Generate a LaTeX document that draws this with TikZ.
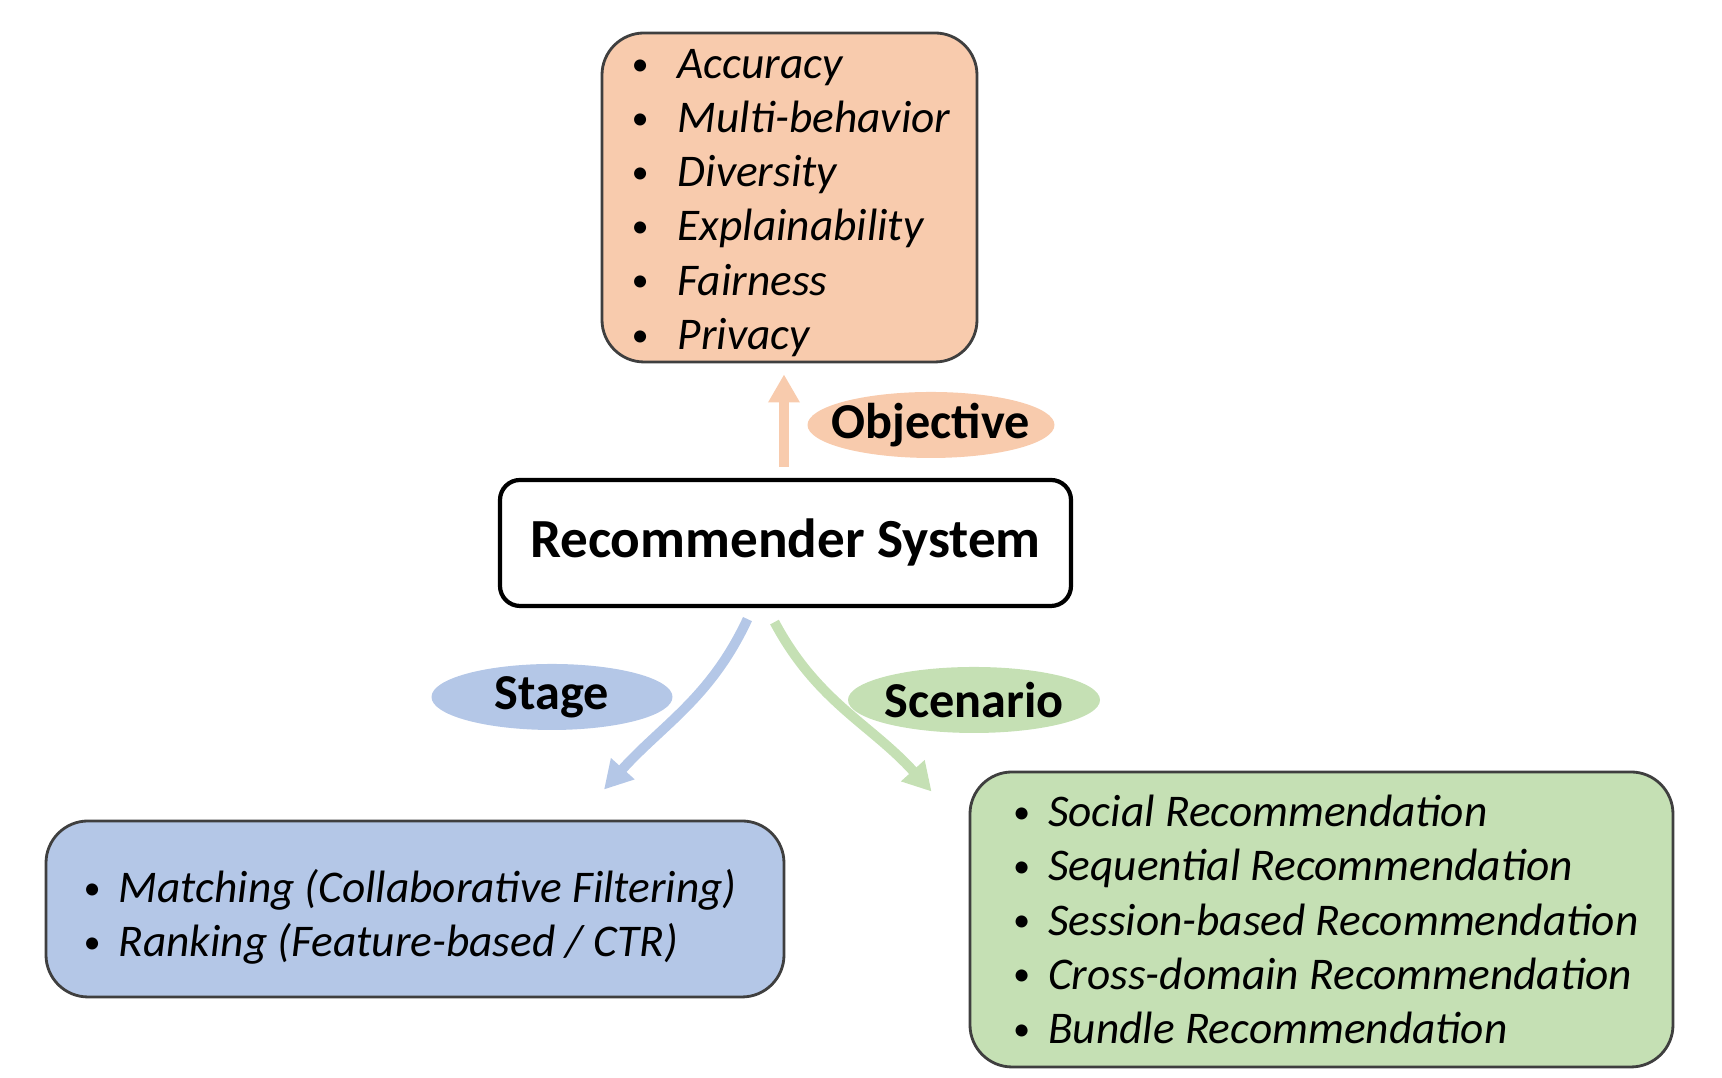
\documentclass[tikz,border=0pt]{standalone}
\usepackage{fontspec}
\setmainfont{Carlito}
\usetikzlibrary{positioning,arrows.meta,calc,shapes.geometric}
\definecolor{objpeach}{HTML}{F8CBAD}
\definecolor{stageblue}{HTML}{B4C7E7}
\definecolor{scengreen}{HTML}{C5E0B4}
\definecolor{edgegray}{HTML}{3F3F3F}
\newcommand{\bul}[1][0.185cm]{\raisebox{0.07em}{\scalebox{0.75}{\textbullet}}\hspace{#1}}

\begin{document}
\begin{tikzpicture}[x=1cm,y=1cm,
  listbox/.style={rounded corners=0.42cm, draw=edgegray, line width=0.8pt},
  listtext/.style={anchor=west, align=left, inner sep=0pt, font=\itshape\fontsize{12.9}{15.4}\selectfont},
  tagoval/.style={ellipse, inner xsep=-0.12cm, inner ysep=-0.05cm, minimum height=0.66cm, font=\bfseries\fontsize{14.3}{16}\selectfont},
  flow/.style={line width=2.8pt, -{Triangle[width=8.5pt,length=8pt]}}]
\useasboundingbox (0,0) rectangle (17.22,10.78);
% centre box
\node[rounded corners=0.2cm, draw=black, line width=1.2pt, fill=white, minimum width=5.71cm, minimum height=1.26cm, font=\bfseries\fontsize{15.7}{19}\selectfont] (sys) at (7.855,5.35) {Recommender System};
% three groups
\node[listbox, fill=objpeach, minimum width=3.75cm, minimum height=3.29cm] (goals) at (7.895,8.805) {};
\node[listtext] (goallist) at ($(goals.west)+(0.3,-0.055)$) {\bul[0.295cm]Accuracy\\\bul[0.295cm]Multi-behavior\\\bul[0.295cm]Diversity\\\bul[0.295cm]Explainability\\\bul[0.295cm]Fairness\\\bul[0.295cm]Privacy};
\node[listbox, fill=stageblue, minimum width=7.38cm, minimum height=1.76cm] (stages) at (4.15,1.69) {};
\node[listtext] (stagelist) at ($(stages.west)+(0.38,-0.08)$) {\bul Matching (Collaborative Filtering)\\\bul Ranking (Feature-based / CTR)};
\node[listbox, fill=scengreen, minimum width=7.03cm, minimum height=2.95cm] (scens) at (13.215,1.585) {};
\node[listtext] (scenlist) at ($(scens.west)+(0.435,0)$) {\bul Social Recommendation\\\bul Sequential Recommendation\\\bul Session-based Recommendation\\\bul Cross-domain Recommendation\\\bul Bundle Recommendation};
% labels on the arrows
\node[tagoval, fill=objpeach, minimum width=2.47cm] (objtag) at (9.31,6.53) {Objective};
\node[tagoval, fill=stageblue, minimum width=2.41cm] (stagetag) at (5.52,3.81) {Stage};
\node[tagoval, fill=scengreen, minimum width=2.52cm] (scentag) at (9.74,3.78) {Scenario};
% arrows
\draw[flow, objpeach] ($(sys.north)+(-0.015,0.11)$) -- ($(sys.north |- goals.south)+(-0.015,-0.11)$);
\draw[flow, stageblue] ($(sys.south)+(-0.38,-0.11)$) to[out=-115, in=48] ($(stages.north)+(1.89,0.30)$);
\draw[flow, scengreen] ($(sys.south)+(-0.11,-0.14)$) to[out=-62, in=132] ($(scens.north west)+(-0.37,-0.21)$);
\end{tikzpicture}
\end{document}
